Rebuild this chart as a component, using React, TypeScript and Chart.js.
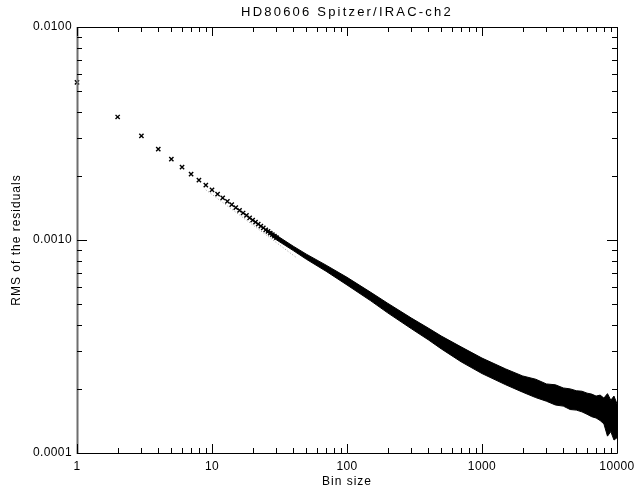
import { useEffect, useRef } from "react";
import { Chart, registerables } from "chart.js";

Chart.register(...registerables);

// Individual bin sizes (crosses)
const pointBins = [1, 2, 3, 4, 5, 6, 7, 8, 9, 10, 11, 12, 13, 14, 15, 16, 17, 18, 19, 20, 21, 22, 23, 24, 25, 26, 27, 28, 29, 30];
const pointRms = [
  0.0055, 0.00378, 0.00308, 0.00267, 0.0024, 0.0022, 0.00204, 0.00191, 0.00181, 0.00172,
  0.001643, 0.001578, 0.001519, 0.001467, 0.00142, 0.001378, 0.001339, 0.001304, 0.001271, 0.001241,
  0.001213, 0.001187, 0.001162, 0.001139, 0.001117, 0.001097, 0.001078, 0.00106, 0.001042, 0.001026,
];

// Dense band of bin sizes: upper and lower envelope
const bandBins = [
  25, 30, 40, 50, 70, 100, 150, 200, 300, 400, 500, 700, 1000, 1500, 2000, 2500, 3000, 3500, 4000, 4500,
  5000, 5500, 6000, 6500, 7000, 7500, 8000, 8500, 9000, 9500, 10000,
];
const bandUpper = [
  0.00113, 0.001052, 0.000935, 0.000858, 0.000762, 0.000668, 0.000568, 0.000505, 0.00043, 0.000386, 0.000354,
  0.000315, 0.000279, 0.000248, 0.00023, 0.000222, 0.000211, 0.000209, 0.000202, 0.0002,
  0.000196, 0.000195, 0.000191, 0.000189, 0.000185, 0.000187, 0.000181, 0.00019, 0.000177, 0.000185, 0.00017,
];
const bandLower = [
  0.001105, 0.001002, 0.000892, 0.000812, 0.000713, 0.000615, 0.000518, 0.000455, 0.000383, 0.00034, 0.000308,
  0.000268, 0.000236, 0.000209, 0.000193, 0.000182, 0.000175, 0.000168, 0.000166, 0.00016,
  0.000159, 0.000156, 0.000152, 0.000148, 0.000146, 0.000142, 0.000137, 0.00012, 0.000126, 0.000115, 0.000118,
];

// Grey reference line
const refBins = [9, 42.6];
const refRms = [0.00172, 0.000823];

const xMajor = [1, 10, 100, 1000, 10000];
const xLabels = ["1", "10", "100", "1000", "10000"];
const yMajor = [0.0001, 0.001, 0.01];
const yLabels = ["0.0001", "0.0010", "0.0100"];

const TITLE = "HD80606 Spitzer/IRAC-ch2";
const XTITLE = "Bin size";
const YTITLE = "RMS of the residuals";

const toXY = (xs: number[], ys: number[]) => xs.map((x, i) => ({ x, y: ys[i] }));

const axesPlugin = {
  id: "idlAxes",
  afterDatasetsDraw(chart: any) {
    const ctx: CanvasRenderingContext2D = chart.ctx;
    const { left, right, top, bottom } = chart.chartArea;
    const xs = chart.scales.x;
    const ys = chart.scales.y;
    ctx.save();
    // frame
    ctx.strokeStyle = "#000";
    ctx.lineWidth = 1;
    ctx.beginPath();
    ctx.moveTo(left, top + 0.5);
    ctx.lineTo(right + 0.5, top + 0.5);
    ctx.moveTo(right + 0.5, top);
    ctx.lineTo(right + 0.5, bottom + 0.5);
    ctx.moveTo(left, bottom + 0.5);
    ctx.lineTo(right + 0.5, bottom + 0.5);
    ctx.stroke();
    ctx.strokeStyle = "#6e6e6e";
    ctx.lineWidth = 2;
    ctx.beginPath();
    ctx.moveTo(left + 0.5, top);
    ctx.lineTo(left + 0.5, bottom + 1);
    ctx.stroke();

    ctx.strokeStyle = "#000";
    ctx.lineWidth = 1;
    ctx.beginPath();
    // x ticks
    for (let d = 1; d < 10000; d *= 10) {
      for (let m = 1; m <= 10; m++) {
        const v = d * m;
        if (v > 10000) continue;
        const px = Math.round(xs.getPixelForValue(v)) + 0.5;
        const len = m === 1 || m === 10 ? 9 : 5;
        ctx.moveTo(px, bottom);
        ctx.lineTo(px, bottom - len);
        ctx.moveTo(px, top);
        ctx.lineTo(px, top + len);
      }
    }
    // y ticks
    for (let d = 0.0001; d < 0.0099; d *= 10) {
      for (let m = 1; m <= 10; m++) {
        const v = d * m;
        const py = Math.round(ys.getPixelForValue(v)) + 0.5;
        const len = m === 1 || m === 10 ? 10 : 5;
        ctx.moveTo(left, py);
        ctx.lineTo(left + len, py);
        ctx.moveTo(right, py);
        ctx.lineTo(right - len, py);
      }
    }
    ctx.stroke();

    // labels
    ctx.fillStyle = "#000";
    ctx.font = "12px 'Liberation Sans', Arial, sans-serif";
    (ctx as any).letterSpacing = "0.4px";
    ctx.textBaseline = "middle";
    ctx.textAlign = "center";
    xMajor.forEach((v, i) => {
      ctx.fillText(xLabels[i], xs.getPixelForValue(v), bottom + 14);
    });
    ctx.textAlign = "right";
    yMajor.forEach((v, i) => {
      ctx.fillText(yLabels[i], left - 5, ys.getPixelForValue(v));
    });
    (ctx as any).letterSpacing = "1px";
    ctx.textAlign = "center";
    ctx.fillText(XTITLE, (left + right) / 2, bottom + 29);
    ctx.save();
    ctx.translate(17, (top + bottom) / 2);
    ctx.rotate(-Math.PI / 2);
    ctx.fillText(YTITLE, 0, 0);
    ctx.restore();
    ctx.font = "13px 'Liberation Sans', Arial, sans-serif";
    (ctx as any).letterSpacing = "2.2px";
    ctx.fillText(TITLE, (left + right) / 2, 12);
    ctx.restore();
  },
};

export default function App() {
  const ref = useRef<HTMLCanvasElement>(null);
  useEffect(() => {
    document.body.style.margin = "0";
    const chart = new Chart(ref.current as HTMLCanvasElement, {
      type: "line",
      data: {
        datasets: [
          {
            data: toXY(refBins, refRms),
            borderColor: "#9a9a9a",
            borderWidth: 1,
            borderDash: [1, 2],
            pointRadius: 0,
            fill: false,
          },
          {
            data: toXY(bandBins, bandUpper),
            borderColor: "#000",
            backgroundColor: "#000",
            borderWidth: 1,
            pointRadius: 0,
            fill: "+1",
            tension: 0,
          },
          {
            data: toXY(bandBins, bandLower),
            borderColor: "#000",
            borderWidth: 1,
            pointRadius: 0,
            fill: false,
            tension: 0,
          },
          {
            data: toXY(pointBins, pointRms),
            showLine: false,
            pointStyle: "crossRot",
            pointRadius: 3,
            borderColor: "#000",
            borderWidth: 1.4,
            clip: false as any,
          },
        ],
      },
      options: {
        responsive: false,
        animation: false,
        layout: { padding: { left: 77, right: 21, top: 27, bottom: 37 } },
        scales: {
          x: { type: "logarithmic", min: 1, max: 10000, display: false },
          y: { type: "logarithmic", min: 0.0001, max: 0.01, display: false },
        },
        plugins: { legend: { display: false }, tooltip: { enabled: false } },
      },
      plugins: [axesPlugin],
    });
    return () => chart.destroy();
  }, []);
  return <canvas ref={ref} width={638} height={490} style={{ display: "block" }} />;
}
